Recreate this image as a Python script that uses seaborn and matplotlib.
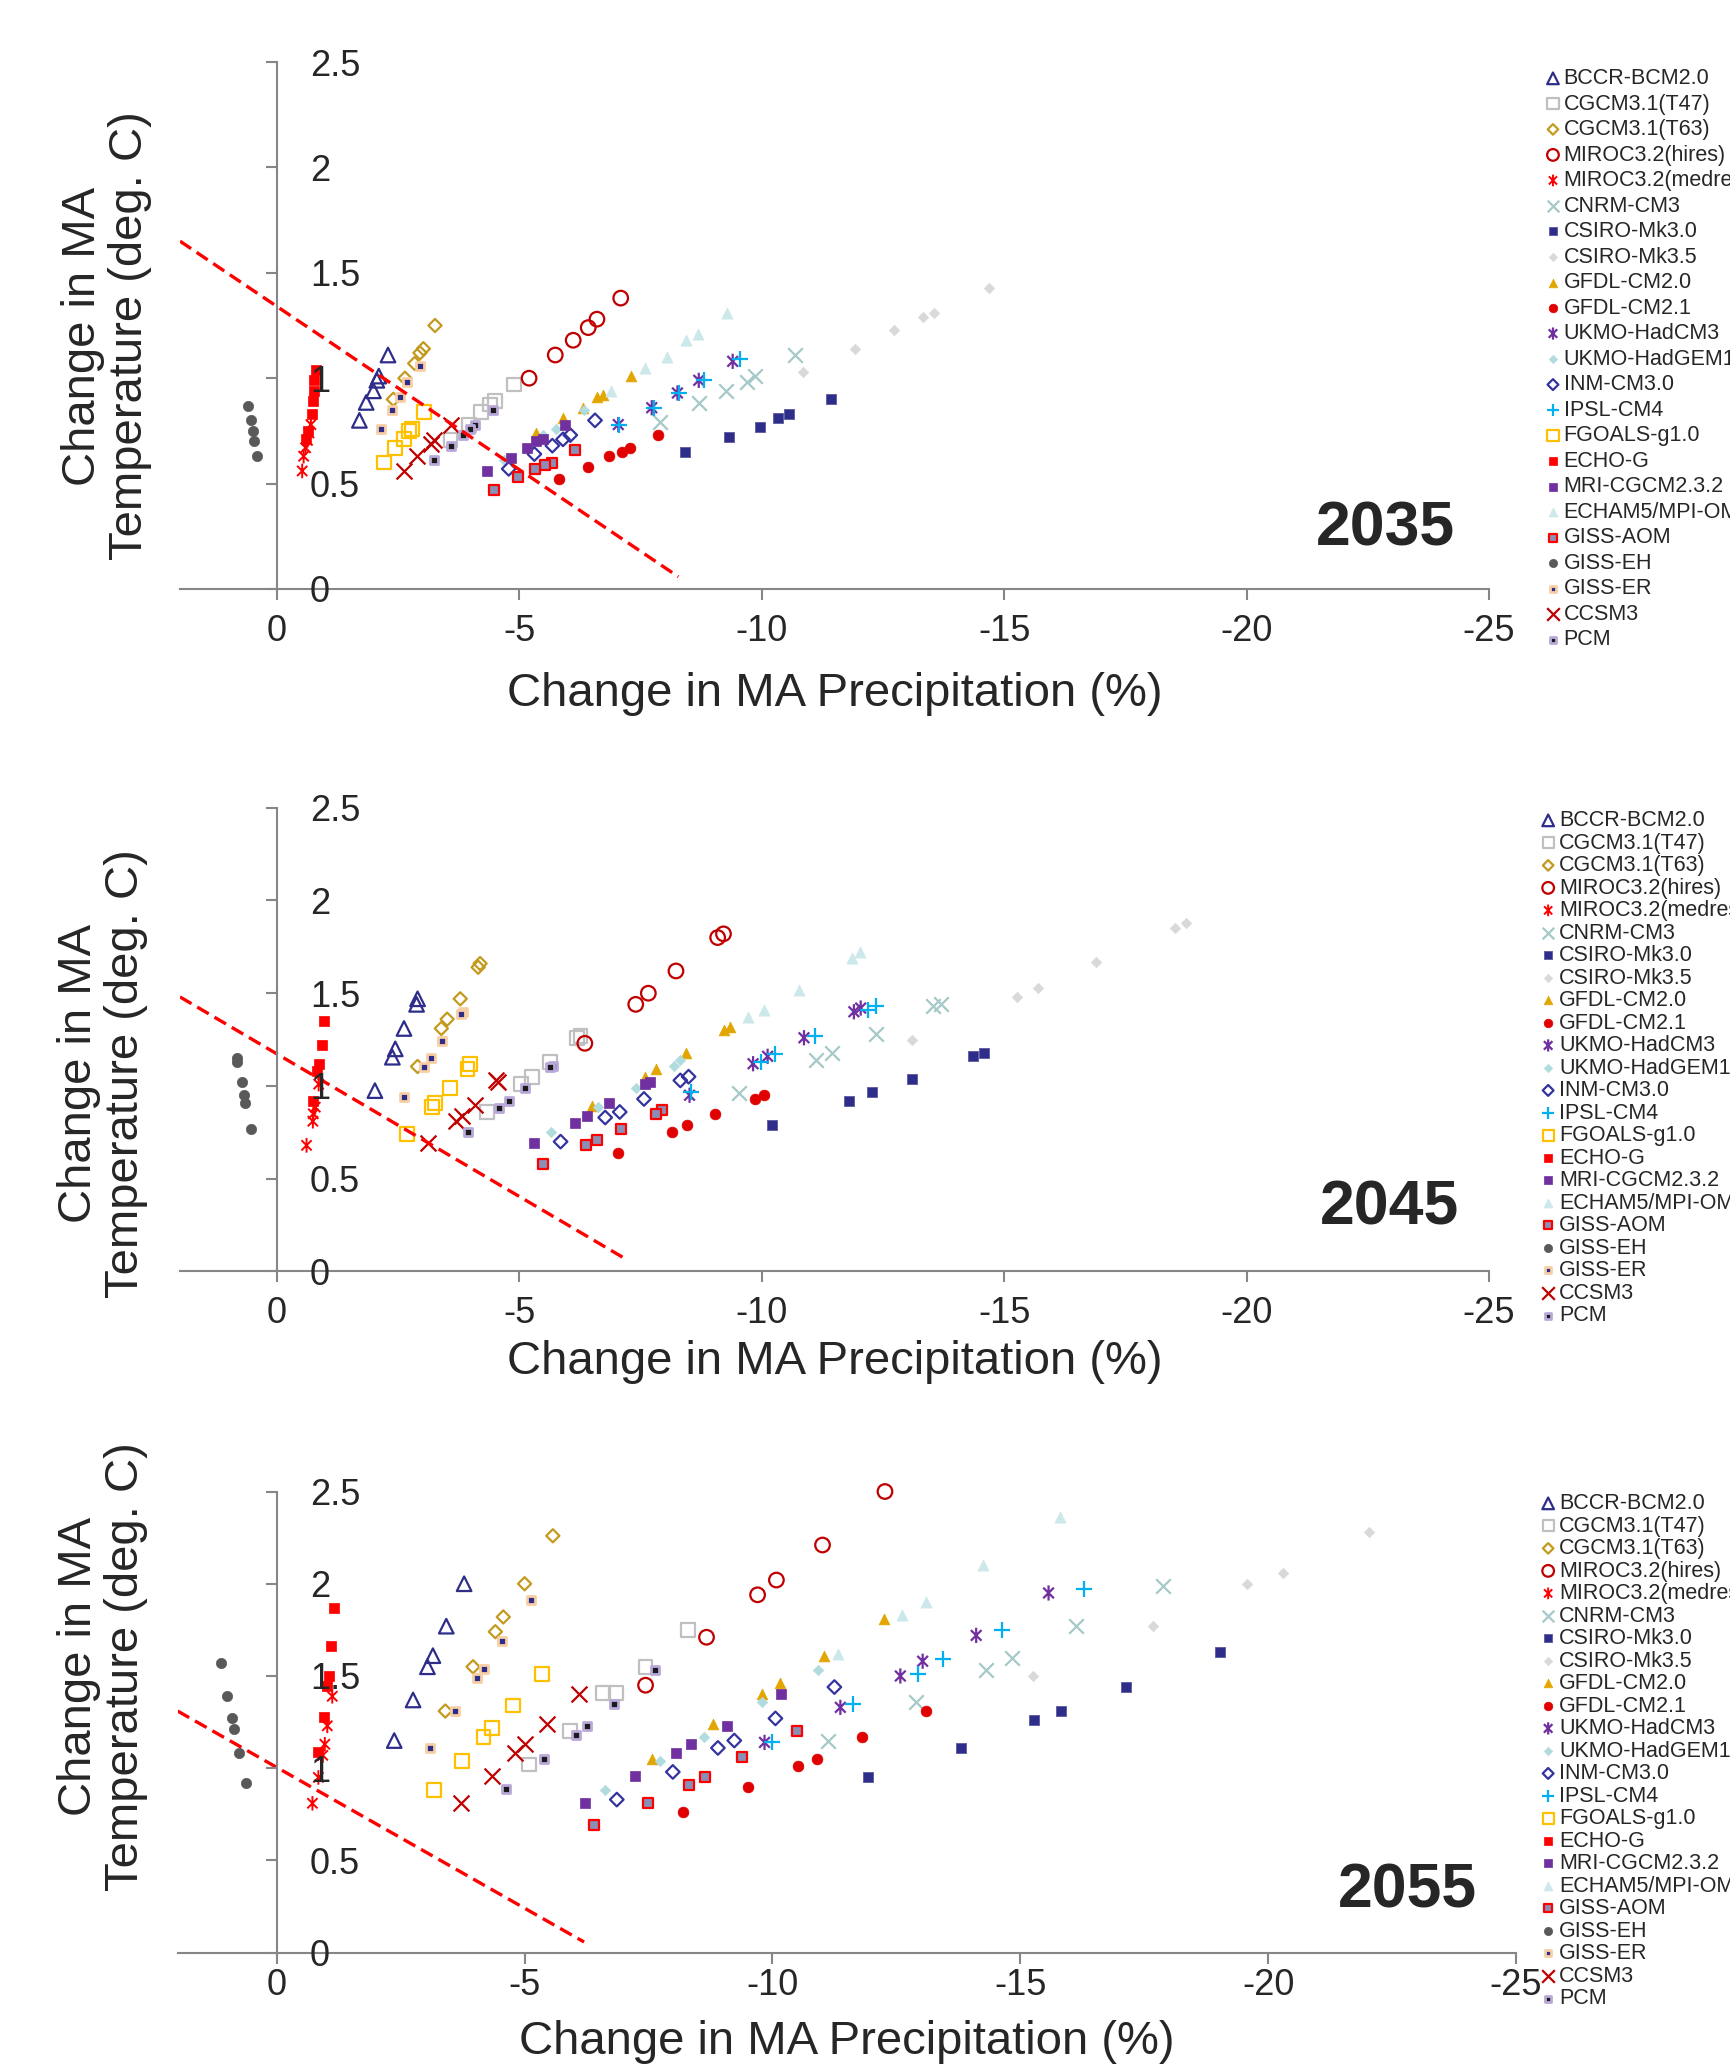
import matplotlib
matplotlib.use("Agg")
import matplotlib.pyplot as plt
import seaborn as sns
from matplotlib.path import Path
from matplotlib.ticker import FixedLocator, FuncFormatter

sns.set_style("white")
plt.rcParams["font.family"] = ["Liberation Sans", "DejaVu Sans"]
plt.rcParams["axes.unicode_minus"] = False

YEARS = [2035, 2045, 2055]

# every model: [2035 points, 2045 points, 2055 points]
BCCR_X = [[-2.29, -2.10, -2.06, -1.99, -1.84, -1.70],
          [-2.90, -2.88, -2.62, -2.44, -2.38, -2.02],
          [-3.78, -3.42, -3.15, -3.04, -2.75, -2.37]]
BCCR_Y = [[1.11, 1.01, 0.99, 0.94, 0.885, 0.80],
          [1.47, 1.44, 1.31, 1.20, 1.155, 0.975],
          [2.00, 1.77, 1.61, 1.55, 1.37, 1.15]]

T47_X = [[-4.88, -4.50, -4.39, -4.20, -3.97, -3.58],
         [-6.26, -6.18, -5.63, -5.26, -5.04, -4.34],
         [-8.30, -7.44, -6.84, -6.59, -5.92, -5.09]]
T47_Y = [[0.97, 0.89, 0.875, 0.84, 0.78, 0.705],
         [1.27, 1.26, 1.13, 1.05, 1.01, 0.86],
         [1.75, 1.55, 1.41, 1.41, 1.20, 1.02]]

T63_X = [[-3.26, -3.02, -2.95, -2.84, -2.64, -2.40],
         [-4.19, -4.15, -3.78, -3.51, -3.39, -2.90],
         [-5.57, -5.00, -4.57, -4.41, -3.96, -3.40]]
T63_Y = [[1.25, 1.14, 1.12, 1.07, 1.00, 0.90],
         [1.66, 1.64, 1.47, 1.36, 1.31, 1.105],
         [2.26, 2.00, 1.82, 1.74, 1.55, 1.31]]

HIRES_X = [[-7.09, -6.60, -6.42, -6.11, -5.74, -5.20],
           [-9.21, -9.09, -8.23, -7.66, -7.40, -6.35],
           [-12.27, -11.01, -10.08, -9.70, -8.67, -7.44]]
HIRES_Y = [[1.38, 1.28, 1.24, 1.18, 1.11, 1.00],
           [1.82, 1.80, 1.62, 1.50, 1.44, 1.23],
           [2.50, 2.21, 2.02, 1.94, 1.71, 1.45]]

MEDRES_X = [[-0.70, -0.66, -0.63, -0.59, -0.55, -0.52],
            [-0.86, -0.79, -0.75, -0.74, -0.61],
            [-1.12, -1.02, -0.97, -0.93, -0.84, -0.72]]
MEDRES_Y = [[0.78, 0.74, 0.705, 0.67, 0.63, 0.56],
            [1.01, 0.886, 0.85, 0.81, 0.68],
            [1.39, 1.23, 1.13, 1.07, 0.95, 0.81]]

CNRM_X = [[-10.69, -9.87, -9.69, -9.26, -8.70, -7.91],
          [-13.69, -13.53, -12.35, -11.45, -11.11, -9.53],
          [-17.88, -16.12, -14.84, -14.30, -12.90, -11.12]]
CNRM_Y = [[1.11, 1.01, 0.98, 0.94, 0.88, 0.79],
          [1.44, 1.43, 1.28, 1.18, 1.14, 0.96],
          [1.99, 1.77, 1.60, 1.53, 1.36, 1.15]]

MK30_X = [[-11.43, -10.56, -10.33, -9.96, -9.32, -8.41],
          [-14.59, -14.36, -13.10, -12.27, -11.80, -10.21],
          [-19.03, -17.14, -15.82, -15.28, -13.80, -11.92]]
MK30_Y = [[0.90, 0.83, 0.81, 0.77, 0.72, 0.65],
          [1.18, 1.16, 1.04, 0.97, 0.92, 0.79],
          [1.63, 1.44, 1.31, 1.26, 1.11, 0.95]]

MK35_X = [[-14.69, -13.55, -13.32, -12.73, -11.93, -10.85],
          [-18.74, -18.52, -16.90, -15.70, -15.26, -13.10],
          [-22.04, -20.29, -19.57, -17.67, -15.26]]
MK35_Y = [[1.43, 1.31, 1.29, 1.23, 1.14, 1.03],
          [1.88, 1.85, 1.67, 1.53, 1.48, 1.25],
          [2.28, 2.06, 2.00, 1.77, 1.50]]

CM20_X = [[-7.30, -6.73, -6.60, -6.31, -5.90, -5.35],
          [-9.34, -9.23, -8.43, -7.81, -7.59, -6.50],
          [-12.25, -11.04, -10.15, -9.78, -8.81, -7.58]]
CM20_Y = [[1.01, 0.92, 0.91, 0.86, 0.81, 0.74],
          [1.32, 1.30, 1.18, 1.09, 1.05, 0.89],
          [1.81, 1.61, 1.46, 1.40, 1.24, 1.05]]

CM21_X = [[-7.85, -7.28, -7.12, -6.84, -6.42, -5.81],
          [-10.04, -9.87, -9.03, -8.45, -8.14, -7.03],
          [-13.10, -11.80, -10.90, -10.51, -9.50, -8.19]]
CM21_Y = [[0.73, 0.67, 0.65, 0.63, 0.58, 0.52],
          [0.95, 0.93, 0.85, 0.79, 0.75, 0.64],
          [1.31, 1.17, 1.05, 1.01, 0.90, 0.76]]

HADCM3_X = [[-9.40, -8.70, -8.26, -7.73, -7.04],
            [-12.04, -11.90, -10.87, -10.12, -9.82, -8.51],
            [-15.57, -14.11, -13.03, -12.58, -11.37, -9.84]]
HADCM3_Y = [[1.08, 0.99, 0.93, 0.86, 0.78],
            [1.42, 1.40, 1.26, 1.16, 1.12, 0.95],
            [1.95, 1.72, 1.58, 1.50, 1.33, 1.14]]

HADGEM_X = [[-6.34, -5.75, -5.49, -4.68],
            [-8.32, -8.18, -7.40, -6.62, -5.66],
            [-10.92, -9.78, -8.62, -7.74, -6.62]]
HADGEM_Y = [[0.85, 0.76, 0.73, 0.61],
            [1.14, 1.11, 0.99, 0.886, 0.75],
            [1.53, 1.36, 1.17, 1.04, 0.88]]

INM_X = [[-6.56, -6.05, -5.90, -5.68, -5.31, -4.78],
         [-8.49, -8.32, -7.57, -7.07, -6.77, -5.85],
         [-11.25, -10.06, -9.23, -8.90, -7.99, -6.86]]
INM_Y = [[0.80, 0.73, 0.71, 0.68, 0.64, 0.57],
         [1.05, 1.03, 0.93, 0.86, 0.83, 0.70],
         [1.44, 1.27, 1.15, 1.11, 0.98, 0.83]]

IPSL_X = [[-9.55, -8.80, -8.30, -7.78, -7.06],
          [-12.35, -12.20, -11.09, -10.28, -9.99, -8.55],
          [-16.28, -14.63, -13.44, -12.94, -11.63, -10.00]]
IPSL_Y = [[1.09, 0.99, 0.93, 0.86, 0.78],
          [1.43, 1.41, 1.27, 1.17, 1.13, 0.97],
          [1.97, 1.75, 1.59, 1.51, 1.35, 1.14]]

FGOALS_X = [[-3.04, -2.79, -2.73, -2.62, -2.43, -2.21],
            [-3.99, -3.93, -3.56, -3.26, -3.19, -2.69],
            [-5.35, -4.77, -4.35, -4.17, -3.74, -3.18]]
FGOALS_Y = [[0.84, 0.76, 0.75, 0.71, 0.67, 0.60],
            [1.12, 1.09, 0.99, 0.91, 0.885, 0.74],
            [1.51, 1.34, 1.22, 1.17, 1.04, 0.88]]

ECHOG_X = [[-0.81, -0.77, -0.77, -0.74, -0.72, -0.63, -0.59],
           [-0.97, -0.92, -0.86, -0.83, -0.75],
           [-1.15, -1.10, -1.06, -1.02, -0.95, -0.84]]
ECHOG_Y = [[1.04, 0.99, 0.94, 0.89, 0.83, 0.75, 0.71],
           [1.35, 1.22, 1.12, 1.08, 0.92],
           [1.87, 1.66, 1.50, 1.445, 1.28, 1.09]]

MRI_X = [[-5.94, -5.49, -5.35, -5.15, -4.82, -4.34],
         [-7.70, -7.59, -6.85, -6.40, -6.14, -5.30],
         [-10.17, -9.08, -8.36, -8.05, -7.23, -6.21]]
MRI_Y = [[0.78, 0.71, 0.70, 0.67, 0.62, 0.56],
         [1.02, 1.01, 0.91, 0.84, 0.80, 0.69],
         [1.40, 1.23, 1.13, 1.08, 0.96, 0.81]]

ECHAM_X = [[-9.28, -8.69, -8.44, -8.05, -7.60, -6.90],
           [-12.03, -11.87, -10.77, -10.04, -9.71],
           [-15.81, -14.24, -13.09, -12.62, -11.32]]
ECHAM_Y = [[1.31, 1.21, 1.18, 1.10, 1.05, 0.94],
           [1.72, 1.69, 1.52, 1.41, 1.37],
           [2.36, 2.10, 1.90, 1.83, 1.62]]

AOM_X = [[-6.14, -5.68, -5.52, -5.32, -4.98, -4.48],
         [-7.94, -7.81, -7.09, -6.61, -6.37, -5.48],
         [-10.49, -9.39, -8.64, -8.32, -7.49, -6.41]]
AOM_Y = [[0.66, 0.60, 0.59, 0.57, 0.53, 0.47],
         [0.87, 0.85, 0.77, 0.71, 0.68, 0.58],
         [1.20, 1.06, 0.95, 0.91, 0.81, 0.69]]

EH_X = [[0.60, 0.53, 0.50, 0.48, 0.42],
        [0.83, 0.83, 0.72, 0.69, 0.65, 0.54],
        [1.12, 1.01, 0.90, 0.87, 0.76, 0.63]]
EH_Y = [[0.87, 0.80, 0.75, 0.70, 0.63],
        [1.15, 1.13, 1.02, 0.95, 0.91, 0.77],
        [1.57, 1.39, 1.27, 1.21, 1.08, 0.92]]

ER_X = [[-2.95, -2.69, -2.54, -2.37, -2.14],
        [-3.83, -3.80, -3.41, -3.18, -3.04, -2.61],
        [-5.13, -4.55, -4.18, -4.03, -3.60, -3.09]]
ER_Y = [[1.06, 0.98, 0.91, 0.85, 0.76],
        [1.40, 1.39, 1.24, 1.15, 1.10, 0.94],
        [1.91, 1.69, 1.54, 1.49, 1.31, 1.11]]

CCSM_X = [[-3.58, -3.24, -3.17, -2.88, -2.62],
          [-4.56, -4.52, -4.08, -3.82, -3.69, -3.12],
          [-6.09, -5.45, -5.01, -4.81, -4.34, -3.72]]
CCSM_Y = [[0.78, 0.705, 0.69, 0.63, 0.56],
          [1.02, 1.03, 0.90, 0.84, 0.81, 0.69],
          [1.40, 1.24, 1.13, 1.08, 0.96, 0.81]]

PCM_X = [[-4.46, -4.09, -3.98, -3.83, -3.58, -3.23],
         [-5.70, -5.63, -5.11, -4.78, -4.58, -3.93],
         [-7.63, -6.81, -6.26, -6.03, -5.40, -4.63]]
PCM_Y = [[0.85, 0.78, 0.76, 0.73, 0.68, 0.61],
         [1.11, 1.10, 0.99, 0.92, 0.88, 0.75],
         [1.535, 1.35, 1.23, 1.18, 1.05, 0.89]]

# dashed threshold line, end points per panel
LIMIT_X = [[2.0, -8.28], [2.0, -7.24], [2.0, -6.20]]
LIMIT_Y = [[1.65, 0.058], [1.48, 0.06], [1.31, 0.058]]

X_TICKS = [0, -5, -10, -15, -20, -25]
Y_TICKS = [0, 0.5, 1, 1.5, 2, 2.5]

MODELS = [
    ("BCCR-BCM2.0", BCCR_X, BCCR_Y),
    ("CGCM3.1(T47)", T47_X, T47_Y),
    ("CGCM3.1(T63)", T63_X, T63_Y),
    ("MIROC3.2(hires)", HIRES_X, HIRES_Y),
    ("MIROC3.2(medres)", MEDRES_X, MEDRES_Y),
    ("CNRM-CM3", CNRM_X, CNRM_Y),
    ("CSIRO-Mk3.0", MK30_X, MK30_Y),
    ("CSIRO-Mk3.5", MK35_X, MK35_Y),
    ("GFDL-CM2.0", CM20_X, CM20_Y),
    ("GFDL-CM2.1", CM21_X, CM21_Y),
    ("UKMO-HadCM3", HADCM3_X, HADCM3_Y),
    ("UKMO-HadGEM1", HADGEM_X, HADGEM_Y),
    ("INM-CM3.0", INM_X, INM_Y),
    ("IPSL-CM4", IPSL_X, IPSL_Y),
    ("FGOALS-g1.0", FGOALS_X, FGOALS_Y),
    ("ECHO-G", ECHOG_X, ECHOG_Y),
    ("MRI-CGCM2.3.2", MRI_X, MRI_Y),
    ("ECHAM5/MPI-OM", ECHAM_X, ECHAM_Y),
    ("GISS-AOM", AOM_X, AOM_Y),
    ("GISS-EH", EH_X, EH_Y),
    ("GISS-ER", ER_X, ER_Y),
    ("CCSM3", CCSM_X, CCSM_Y),
    ("PCM", PCM_X, PCM_Y),
]

# excel style asterisk: vertical bar plus an x
ASTERISK = Path([(0, -1), (0, 1), (-0.7, -0.7), (0.7, 0.7), (-0.7, 0.7), (0.7, -0.7)],
                [Path.MOVETO, Path.LINETO] * 3)

NAVY = "#2E2E8A"
# marker, size, face, edge, linewidth  (face None -> unfilled marker)
STYLE = {
    "BCCR-BCM2.0": ("^", 110, "none", NAVY, 1.6),
    "CGCM3.1(T47)": ("s", 100, "none", "#C0C0C0", 1.6),
    "CGCM3.1(T63)": ("D", 45, "none", "#C49A1E", 1.6),
    "MIROC3.2(hires)": ("o", 110, "none", "#C00000", 1.6),
    "MIROC3.2(medres)": (ASTERISK, 110, "none", "#FF0000", 1.4),
    "CNRM-CM3": ("x", 110, None, "#A6C9C9", 1.6),
    "CSIRO-Mk3.0": ("s", 60, NAVY, "#5A5AA0", 0.6),
    "CSIRO-Mk3.5": ("D", 28, "#D9D9D9", "#D9D9D9", 0.5),
    "GFDL-CM2.0": ("^", 60, "#E3A600", "#E3A600", 0.5),
    "GFDL-CM2.1": ("o", 60, "#E00000", "#E00000", 0.5),
    "UKMO-HadCM3": (ASTERISK, 120, "none", "#7030A0", 1.6),
    "UKMO-HadGEM1": ("D", 28, "#B0DCE0", "#B0DCE0", 0.5),
    "INM-CM3.0": ("D", 48, "none", "#3333A0", 1.6),
    "IPSL-CM4": ("+", 120, None, "#00B0F0", 1.6),
    "FGOALS-g1.0": ("s", 100, "none", "#FFC000", 1.6),
    "ECHO-G": ("s", 50, "#FF0000", "#FF0000", 0.5),
    "MRI-CGCM2.3.2": ("s", 60, "#7030A0", "#7030A0", 0.5),
    "ECHAM5/MPI-OM": ("^", 65, "#CDE8EA", "#CDE8EA", 0.5),
    "GISS-AOM": ("s", 45, "#8A8FB5", "#FF0000", 1.6),
    "GISS-EH": ("o", 55, "#595959", "#595959", 0.5),
    "GISS-ER": ("s", 28, NAVY, "#F8CFA5", 2.0),
    "CCSM3": ("x", 130, None, "#C00000", 1.6),
    "PCM": ("s", 28, "#1A1A1A", "#B9A9D9", 2.0),
}

# layout per panel (figure fractions)
RECTS = [[0.10405, 0.71491, 0.75665, 0.25508],
         [0.10405, 0.38456, 0.75665, 0.22449],
         [0.10266, 0.05484, 0.77364, 0.22323]]
XLABEL_Y = [-0.20, -0.195, -0.194]
YLABEL_POS = [(-0.056, 0.48), (-0.059, 0.426), (-0.056, 0.62)]
YEAR_POS = [(0.9206, 0.113), (0.9236, 0.136), (0.9186, 0.134)]
XTICK_PAD = [10, 10, 3]
LEG_POS = [(1546.5 / 1730, 1 - 68 / 2066), (1541.7 / 1730, 1 - 810 / 2066),
           (1541.7 / 1730, 1 - 1493 / 2066)]
LEG_SPACING = [0.21, 0.07, 0.07]

AXIS_GRAY = "#868686"

fig = plt.figure(figsize=(17.3, 20.66), dpi=100)

for i, year in enumerate(YEARS):
    ax = fig.add_axes(RECTS[i])
    for name, xs, ys in MODELS:
        marker, size, face, edge, lw = STYLE[name]
        if face is None:
            sns.scatterplot(x=xs[i], y=ys[i], ax=ax, marker=marker, s=size,
                            color=edge, linewidth=lw, label=name, zorder=1,
                            clip_on=False)
        else:
            sns.scatterplot(x=xs[i], y=ys[i], ax=ax, marker=marker, s=size,
                            color=edge, facecolor=face, edgecolor=edge,
                            linewidth=lw, label=name, zorder=1, clip_on=False)

    ax.plot(LIMIT_X[i], LIMIT_Y[i], color="#FF0000", lw=2.4,
            linestyle=(0, (4, 2)), zorder=2)

    ax.set_xlim(2, -25)
    ax.set_ylim(0, 2.5)
    ax.set_axisbelow(False)

    for side in ["top", "right"]:
        ax.spines[side].set_visible(False)
    ax.spines["left"].set_position(("data", 0))
    for side in ["left", "bottom"]:
        ax.spines[side].set_color(AXIS_GRAY)
        ax.spines[side].set_linewidth(1.5)

    ax.xaxis.set_major_locator(FixedLocator(X_TICKS))
    ax.yaxis.set_major_locator(FixedLocator(Y_TICKS))
    ax.xaxis.set_major_formatter(FuncFormatter(lambda v, p: f"{v:g}"))
    ax.yaxis.set_major_formatter(FuncFormatter(lambda v, p: f"{v:g}"))
    ax.tick_params(axis="x", direction="out", length=8, width=1.5,
                   color=AXIS_GRAY, labelsize=26, pad=XTICK_PAD[i], bottom=True)
    ax.tick_params(axis="y", direction="out", length=8, width=1.5,
                   color=AXIS_GRAY, labelsize=26, pad=-31.8, left=True)
    for lab in ax.get_yticklabels():
        lab.set_horizontalalignment("left")

    ax.set_xlabel("Change in MA Precipitation (%)", fontsize=34)
    ax.xaxis.label.set_va("center")
    ax.xaxis.set_label_coords(0.5, XLABEL_Y[i])
    ax.set_ylabel("Change in MA\nTemperature (deg. C)", fontsize=34,
                  linespacing=1.1)
    ax.yaxis.label.set_va("center")
    ax.yaxis.set_label_coords(*YLABEL_POS[i])

    ax.text(YEAR_POS[i][0], YEAR_POS[i][1], str(year), transform=ax.transAxes,
            fontsize=45, fontweight="bold", ha="center", va="center")

    handles, labels = ax.get_legend_handles_labels()
    ax.legend(handles, labels, loc="upper left", bbox_to_anchor=LEG_POS[i],
              bbox_transform=fig.transFigure, frameon=False, fontsize=15.5,
              borderpad=0, borderaxespad=0, handlelength=0.6,
              handletextpad=0.2, labelspacing=LEG_SPACING[i], markerscale=0.8)

fig.savefig("out.png", dpi=100)
